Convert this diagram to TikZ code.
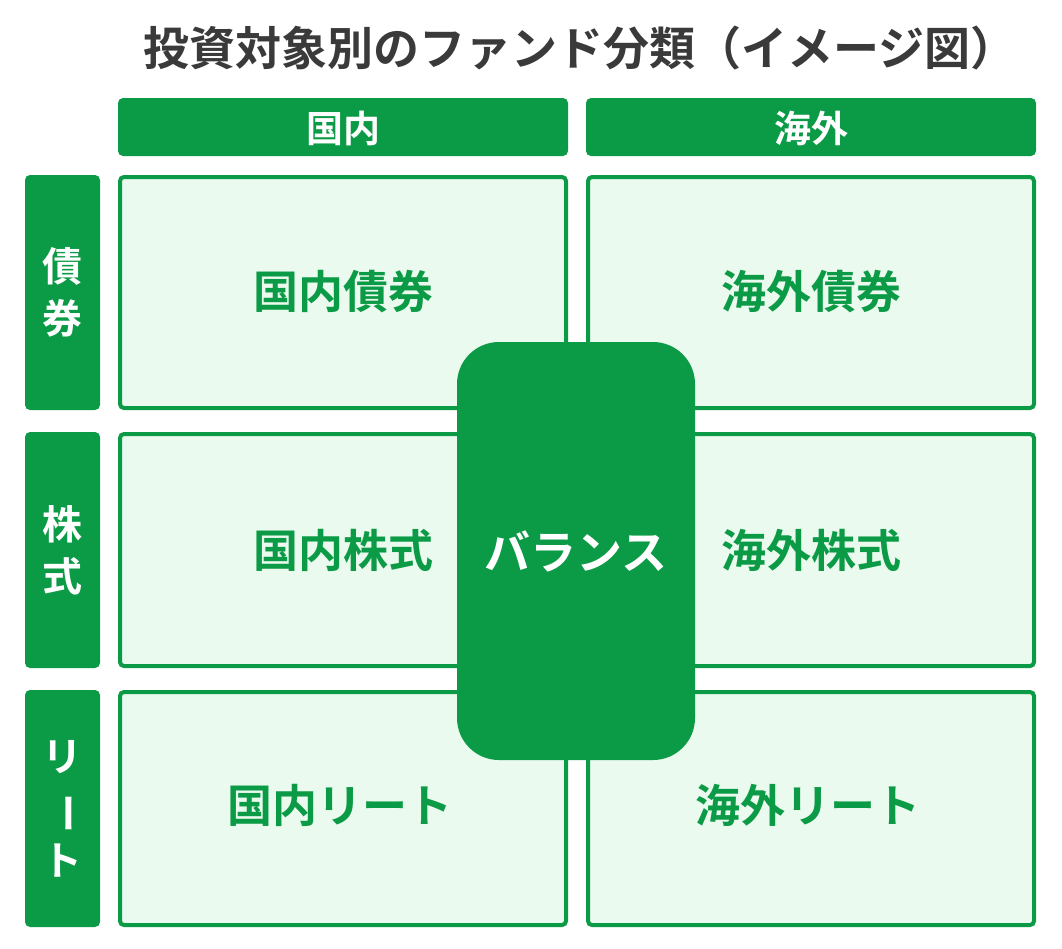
\documentclass[tikz,border=0pt]{standalone}
\usepackage{fontspec}
\setmainfont{Noto Sans CJK JP}[BoldFont={Noto Sans CJK JP Bold}]
\definecolor{dg}{HTML}{0B9A45}
\definecolor{lg}{HTML}{EBFAEE}
\definecolor{tg}{HTML}{3A3A3A}
\begin{document}
\begin{tikzpicture}[x=1pt,y=-1pt,
  hdr/.style={fill=dg,rounded corners=5pt},
  cell/.style={draw=dg,line width=4pt,fill=lg,rounded corners=4pt},
  ctext/.style={text=dg,font=\fontsize{45}{50}\selectfont\bfseries},
  wtext/.style={text=white,font=\fontsize{37}{42}\selectfont\bfseries,align=center}]
\useasboundingbox[fill=white] (0,0) rectangle (1062,948);
\node[text=tg,font=\fontsize{46}{52}\selectfont\bfseries] (title) at (580,48) {投資対象別のファンド分類（イメージ図）};
\fill[hdr] (118,98) rectangle (568,156);
\node[wtext] (h1) at (343,128) {国内};
\fill[hdr] (586,98) rectangle (1036,156);
\node[wtext] (h2) at (811,128) {海外};
\foreach \t/\b/\lab [count=\i] in {175/410/{債\\券},432/668/{株\\式},690/927/{リ\\\rotatebox[origin=c]{-90}{ー}\\ト}}{
  \fill[hdr] (25,\t) rectangle (100,\b);
  \node[wtext,font=\fontsize{40}{52}\selectfont\bfseries] (l\i) at (62.5,{(\t+\b)/2}) {\lab};
  \draw[cell] (120,\t+2) rectangle (566,\b-2);
  \draw[cell] (588,\t+2) rectangle (1034,\b-2);
}
\node[ctext] (c11) at (343,292) {国内債券};
\node[ctext] (c12) at (811,292) {海外債券};
\node[ctext] (c21) at (343,550) {国内株式};
\node[ctext] (c22) at (811,550) {海外株式};
\node[ctext] (c31) at (340,805) {国内リート};
\node[ctext] (c32) at (808,805) {海外リート};
\fill[dg,rounded corners=42pt] (457,342) rectangle (695,760);
\node[wtext,font=\fontsize{46}{50}\selectfont\bfseries] (bal) at (576,551) {バランス};
\end{tikzpicture}
\end{document}
